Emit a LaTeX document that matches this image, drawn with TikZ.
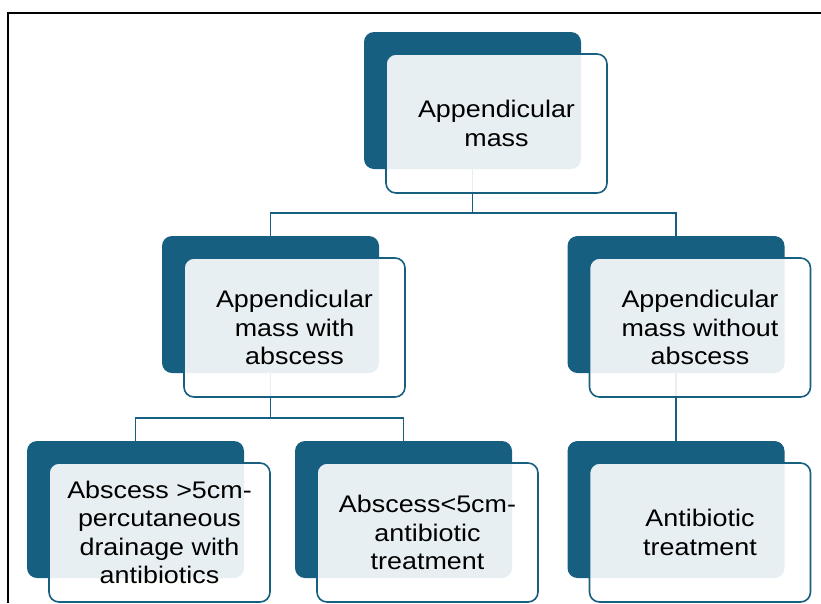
\documentclass[tikz,border=0pt]{standalone}
\usepackage{fontspec}
\setmainfont{Liberation Sans}[FakeStretch=1.12]
\definecolor{smblue}{HTML}{175F80}
\tikzset{
  darkbox/.style={rectangle, rounded corners=10pt, fill=smblue,
    minimum width=217pt, minimum height=137pt, inner sep=0pt},
  cardbox/.style={rectangle, rounded corners=10pt, draw=smblue,
    line width=1.6pt, fill=white, fill opacity=0.9, text opacity=1,
    minimum width=221pt, minimum height=139pt, inner sep=0pt,
    align=center, font=\fontsize{24}{28.5}\selectfont},
  link/.style={draw=smblue, line width=1.6pt}
}
\begin{document}
\begin{tikzpicture}[x=1pt, y=-1pt]
                \useasboundingbox (0,0) rectangle (821,603);
                \draw[line width=1.5pt] (8,603) -- (8,13) -- (821,13);

                \node[darkbox] (mass)    at (472.5,100.5) {};
                \node[darkbox] (withab)  at (270.5,304.5) {};
                \node[darkbox] (noab)    at (676,304.5)   {};
                \node[darkbox] (big)     at (135.5,509.5) {};
                \node[darkbox] (small)   at (403.5,509.5) {};
                \node[darkbox] (anti)    at (676,509.5)   {};

                \draw[link] (mass.south) -- ++(0,44) coordinate (j1);
                \draw[link] (j1) -| (withab.north);
                \draw[link] (j1) -| (noab.north);
                \draw[link] (withab.south) -- ++(0,45) coordinate (j2);
                \draw[link] (j2) -| (big.north);
                \draw[link] (j2) -| (small.north);
                \draw[link] (noab.south) -- (anti.north);

                \node[cardbox] (massc)   at ([shift={(24,23)}]mass.center)
                    {Appendicular\\mass};
                \node[cardbox] (withabc) at ([shift={(24,23)}]withab.center)
                    {Appendicular\\mass with\\abscess};
                \node[cardbox] (noabc)   at ([shift={(24,23)}]noab.center)
                    {Appendicular\\mass without\\abscess};
                \node[cardbox] (bigc)    at ([shift={(24,23)}]big.center)
                    {Abscess >5cm-\\percutaneous\\drainage with\\antibiotics};
                \node[cardbox] (smallc)  at ([shift={(24,23)}]small.center)
                    {Abscess<5cm-\\antibiotic\\treatment};
                \node[cardbox] (antic)   at ([shift={(24,23)}]anti.center)
                    {Antibiotic\\treatment};
            \end{tikzpicture}
\end{document}
